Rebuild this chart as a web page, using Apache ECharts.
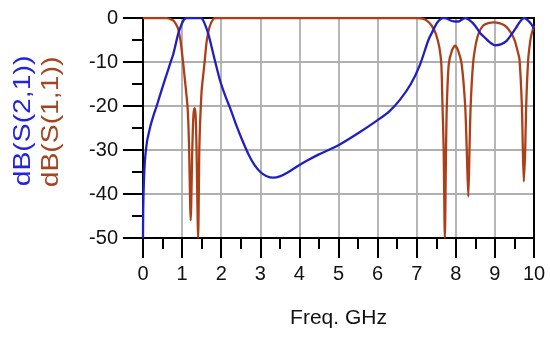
<!DOCTYPE html>
<html>
<head>
<meta charset="utf-8">
<script src="https://cdn.jsdelivr.net/npm/echarts@6/dist/echarts.min.js"></script>
<style>
html,body{margin:0;padding:0;background:#fff;}
#chart{width:550px;height:337px;}
</style>
</head>
<body>
<div id="chart"></div>
<script>
// Frequency axis ticks (GHz) and dB ticks
var xTicks = [0,1,2,3,4,5,6,7,8,9,10];
var yTicks = [0,-10,-20,-30,-40,-50];

// dB(S(2,1))
var s21Freq = [0,0.005,0.02,0.05,0.1,0.14,0.2,0.26,0.35,0.43,0.55,0.69,0.78,0.9,0.98,1.04,1.08,1.12,1.48,1.53,1.6,1.67,1.75,1.84,1.97,2.1,2.25,2.4,2.55,2.7,2.85,3.0,3.15,3.33,3.5,3.7,3.93,4.2,4.5,5.0,5.5,6.0,6.3,6.57,6.85,7.08,7.3,7.42,7.51,7.6,7.68,7.76,7.85,7.95,8.06,8.15,8.24,8.35,8.49,8.62,8.75,8.88,9.0,9.15,9.3,9.42,9.55,9.66,9.75,9.85,9.93,10];
var s21dB = [-50,-44,-38,-32.3,-28.2,-26.5,-24.2,-22.4,-20,-17.7,-14.3,-10.5,-8,-3.6,-1.6,-0.5,-0.1,0,0,-0.4,-1.8,-3.6,-6.4,-9.7,-14.2,-17.6,-21,-24.7,-28,-31,-33.4,-35,-35.9,-36.3,-36,-35.1,-33.8,-32.4,-31,-28.9,-26.2,-23.2,-21.2,-18.6,-15,-10.7,-5,-2.8,-1.2,-0.3,0,-0.1,-0.5,-0.75,-0.8,-0.4,0,-0.5,-1.7,-3.4,-4.5,-5.6,-6.2,-6,-5.2,-3.8,-2.1,-0.6,0,-0.6,-1.4,-2.4];

// dB(S(1,1))
var s11Freq = [0,0.5,0.6,0.7,0.78,0.85,0.9,0.96,1.03,1.1,1.14,1.16,1.18,1.22,1.26,1.29,1.32,1.345,1.37,1.41,1.44,1.46,1.5,1.57,1.63,1.7,1.8,1.9,7.0,7.15,7.26,7.38,7.49,7.58,7.63,7.66,7.69,7.72,7.75,7.77,7.82,7.9,7.98,8.06,8.15,8.24,8.28,8.32,8.35,8.38,8.44,8.5,8.58,8.7,8.85,8.96,9.13,9.25,9.34,9.44,9.51,9.58,9.63,9.69,9.715,9.74,9.775,9.8,9.85,9.9,9.94,10];
var s11dB = [0,0,-0.05,-0.25,-0.6,-1.5,-2.5,-5.2,-10.5,-16.5,-20.3,-24,-30,-46,-30,-22,-20.5,-22,-30,-50,-30,-24,-16.5,-10.5,-5.2,-2.1,-0.2,0,0,-0.15,-0.6,-1.7,-3.6,-6.7,-10.5,-20,-30,-50,-30,-20,-10.5,-7.4,-6.3,-7.4,-10.5,-20,-30,-40.6,-30,-20,-10.5,-6.5,-3.6,-1.7,-1.1,-1.0,-1.2,-1.7,-2.5,-3.8,-5.2,-7.5,-9.5,-20,-30,-37.2,-30,-20,-9.7,-5.5,-3.6,-1.8];

function pairs(xs, ys){ var out=[]; for(var i=0;i<xs.length;i++) out.push([xs[i], ys[i]]); return out; }

var chart = echarts.init(document.getElementById('chart'), null, {renderer:'canvas'});
var FONT = 'Liberation Sans, Arial, sans-serif';
var option = {
  backgroundColor: '#ffffff',
  animation: false,
  grid: {left:143, right:16, top:18, bottom:99, show:false},
  xAxis: [{
    type:'value', min:0, max:10, interval:1, position:'bottom',
    name:'Freq. GHz', nameLocation:'middle', nameGap:70,
    nameTextStyle:{fontFamily:FONT, fontSize:21, color:'#111'},
    axisLine:{show:true, onZero:false, lineStyle:{color:'#000', width:2}},
    axisTick:{show:true, inside:false, length:20, lineStyle:{color:'#000', width:2}},
    minorTick:{show:true, splitNumber:2, length:11, lineStyle:{color:'#000', width:2}},
    axisLabel:{fontFamily:FONT, fontSize:20, color:'#111', margin:26,
      formatter:function(v){ return xTicks.indexOf(v)>=0 ? String(v) : ''; }},
    splitLine:{show:true, lineStyle:{color:'#afafaf', width:1.8}}
  },{
    type:'value', min:0, max:10, position:'top',
    axisLine:{show:true, onZero:false, lineStyle:{color:'#000', width:2}},
    axisTick:{show:false}, axisLabel:{show:false}, splitLine:{show:false}
  }],
  yAxis: [{
    type:'value', min:-50, max:0, interval:10, position:'left',
    axisLine:{show:true, onZero:false, lineStyle:{color:'#000', width:2}},
    axisTick:{show:true, inside:false, length:20, lineStyle:{color:'#000', width:2}},
    minorTick:{show:true, splitNumber:2, length:11, lineStyle:{color:'#000', width:2}},
    axisLabel:{fontFamily:FONT, fontSize:20, color:'#111', margin:25,
      formatter:function(v){ return yTicks.indexOf(v)>=0 ? String(v) : ''; }},
    splitLine:{show:true, lineStyle:{color:'#afafaf', width:1.8}}
  },{
    type:'value', min:-50, max:0, position:'right',
    axisLine:{show:true, onZero:false, lineStyle:{color:'#000', width:2}},
    axisTick:{show:false}, axisLabel:{show:false}, splitLine:{show:false}
  }],
  series: [{
    name:'dB(S(1,1))', type:'line', xAxisIndex:0, yAxisIndex:0,
    data: pairs(s11Freq, s11dB), showSymbol:false, smooth:0.25, clip:true,
    lineStyle:{color:'#ad3f18', width:2.3}, z:3
  },{
    name:'dB(S(2,1))', type:'line', xAxisIndex:0, yAxisIndex:0,
    data: pairs(s21Freq, s21dB), showSymbol:false, smooth:0.3, clip:true,
    lineStyle:{color:'#2020c0', width:2.3}, z:4
  }],
  graphic: [{
    type:'text', x:23, y:121, rotation:Math.PI/2, scaleX:1.18,
    style:{text:'dB(S(2,1))', font:'24px ' + FONT, fill:'#2222e0', align:'center', verticalAlign:'middle'}
  },{
    type:'text', x:51, y:122, rotation:Math.PI/2, scaleX:1.18,
    style:{text:'dB(S(1,1))', font:'24px ' + FONT, fill:'#a5441e', align:'center', verticalAlign:'middle'}
  }]
};
chart.setOption(option);
</script>
</body>
</html>
